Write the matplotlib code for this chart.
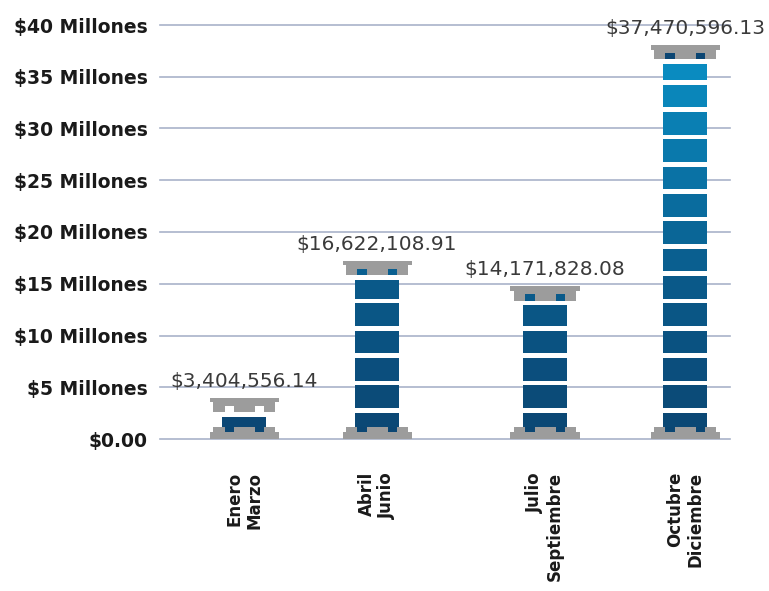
import matplotlib
matplotlib.use("Agg")
import matplotlib.pyplot as plt
import matplotlib.colors as mcolors
from matplotlib.patches import Rectangle

# data
quarters = ["Enero\nMarzo", "Abril\nJunio", "Julio\nSeptiembre", "Octubre\nDiciembre"]
totals_m = [3.40455614, 16.62210891, 14.17182808, 37.47059613]
value_labels = ["$3,404,556.14", "$16,622,108.91", "$14,171,828.08", "$37,470,596.13"]
y_ticks = [0, 5, 10, 15, 20, 25, 30, 35, 40]
y_ticklabels = ["$0.00", "$5 Millones", "$10 Millones", "$15 Millones", "$20 Millones",
                "$25 Millones", "$30 Millones", "$35 Millones", "$40 Millones"]

# layout (column centres are not evenly spaced in the original)
X_POS = [0, 1, 2.263, 3.316]
BODY_W = 0.331
CAP_W = 0.519
CAP_IN_W = 0.46
TAB_W = 0.068
TAB_OFF = 0.113
SEG_START, SEG_STEP, GAP = 2.55, 2.64, 0.45

GRAY = "#9c9c9c"
GRID = "#a9b3c9"
shade = mcolors.LinearSegmentedColormap.from_list(
    "col", [(0, "#0b4572"), (15 / 38, "#0a5a8a"), (1, "#0a91c7")])


def col_color(h):
    return shade(min(max(h / 38, 0), 1))


fig = plt.figure(figsize=(7.69, 5.91), dpi=100)
ax = fig.add_axes([160 / 769, (591 - 439) / 591, 570 / 769, 414 / 591])
ax.set_xlim(-0.632, 3.654)
ax.set_ylim(0, 40)

for t in y_ticks:
    ax.axhline(t, color=GRID, lw=1.2, zorder=0, clip_on=False)

for x, v, lab in zip(X_POS, totals_m, value_labels):
    cap_top = v + 0.6
    body_top = cap_top - 1.4 - GAP

    # base
    ax.add_patch(Rectangle((x - CAP_W / 2, 0), CAP_W, 0.7, color=GRAY, lw=0, zorder=2))
    ax.add_patch(Rectangle((x - CAP_IN_W / 2, 0.7), CAP_IN_W, 0.45, color=GRAY, lw=0, zorder=2))
    for s in (-1, 1):
        ax.add_patch(Rectangle((x + s * TAB_OFF - TAB_W / 2, 0.7), TAB_W, 0.6,
                               color=col_color(1), lw=0, zorder=3))

    # body segments
    lo = 1.15
    k = 0
    while lo < body_top:
        gap_lo = SEG_START + k * SEG_STEP
        hi = min(gap_lo, body_top)
        if hi > lo:
            ax.add_patch(Rectangle((x - BODY_W / 2, lo), BODY_W, hi - lo,
                                   color=col_color((lo + hi) / 2), lw=0, zorder=3))
        lo = gap_lo + GAP
        k += 1

    # capital
    ax.add_patch(Rectangle((x - CAP_W / 2, cap_top - 0.45), CAP_W, 0.45, color=GRAY, lw=0, zorder=4))
    ax.add_patch(Rectangle((x - CAP_IN_W / 2, cap_top - 1.4), CAP_IN_W, 0.95, color=GRAY, lw=0, zorder=4))
    tab_c = col_color(cap_top) if v > 5 else "white"
    for s in (-1, 1):
        ax.add_patch(Rectangle((x + s * TAB_OFF - TAB_W / 2, cap_top - 1.4), TAB_W, 0.6,
                               color=tab_c, lw=0, zorder=5))

    ax.annotate(lab, (x, cap_top), xytext=(0, 5), textcoords="offset points",
                ha="center", va="bottom", fontsize=14.5, color="#3a3a3a",
                annotation_clip=False)

ax.set_yticks(y_ticks)
ax.set_yticklabels(y_ticklabels, fontsize=13.5, fontweight="bold", color="#1a1a1a")
ax.tick_params(axis="y", length=0, pad=9)
ax.set_xticks([])
for sp in ax.spines.values():
    sp.set_visible(False)

for x, q in zip(X_POS, quarters):
    ax.text(x, -3.2, q, rotation=90, ha="center", va="top", multialignment="right",
            fontsize=12, fontweight="bold", color="#1a1a1a", linespacing=1.15)

fig.savefig("out.png", dpi=100)
